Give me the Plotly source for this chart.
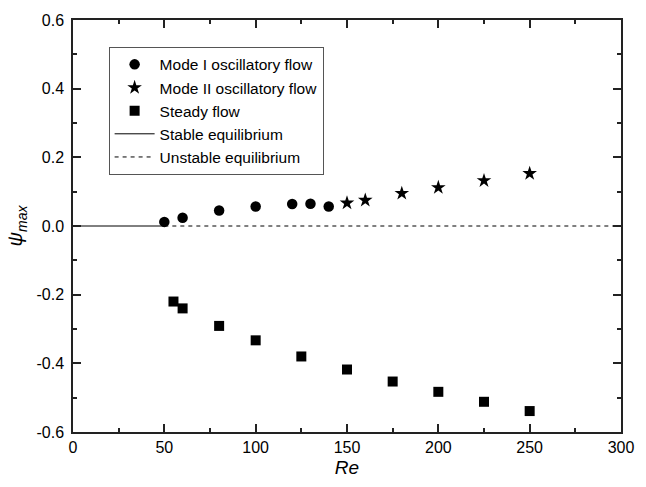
import plotly.graph_objects as go

# Data
re_mode1 = [50, 60, 80, 100, 120, 130, 140]
psi_mode1 = [0.012, 0.024, 0.045, 0.057, 0.064, 0.065, 0.057]

re_mode2 = [150, 160, 180, 200, 225, 250]
psi_mode2 = [0.067, 0.075, 0.095, 0.112, 0.132, 0.153]

re_steady = [55, 60, 80, 100, 125, 150, 175, 200, 225, 250]
psi_steady = [-0.220, -0.240, -0.291, -0.333, -0.380, -0.418, -0.453, -0.483, -0.512, -0.539]

re_stable = [0, 50]
psi_stable = [0, 0]
re_unstable = [50, 300]
psi_unstable = [0, 0]

x_tickvals = [0, 50, 100, 150, 200, 250, 300]
x_ticktext = ["0", "50", "100", "150", "200", "250", "300"]
y_tickvals = [-0.6, -0.4, -0.2, 0.0, 0.2, 0.4, 0.6]
y_ticktext = ["-0.6", "-0.4", "-0.2", "0.0", "0.2", "0.4", "0.6"]

FONT = "Liberation Sans, Arial, sans-serif"

fig = go.Figure()
fig.add_trace(go.Scatter(x=re_mode1, y=psi_mode1, mode="markers", name="Mode I oscillatory flow",
                         marker=dict(symbol="circle", size=10.5, color="black")))
fig.add_trace(go.Scatter(x=re_mode2, y=psi_mode2, mode="markers", name="Mode II oscillatory flow",
                         marker=dict(symbol="star", size=11, color="black")))
fig.add_trace(go.Scatter(x=re_steady, y=psi_steady, mode="markers", name="Steady flow",
                         marker=dict(symbol="square", size=10, color="black")))
fig.add_trace(go.Scatter(x=re_stable, y=psi_stable, mode="lines", name="Stable equilibrium",
                         line=dict(color="black", width=1)))
fig.add_trace(go.Scatter(x=re_unstable, y=psi_unstable, mode="lines", name="Unstable equilibrium",
                         line=dict(color="black", width=1, dash="4px,4px")))

axis_common = dict(
    showline=True, linecolor="#222", linewidth=1.5, mirror="allticks",
    ticks="inside", ticklen=8, tickwidth=1.5, tickcolor="#222",
    showgrid=False, zeroline=False,
    tickfont=dict(family=FONT, size=16, color="black"),
)

fig.update_xaxes(range=[0, 300], tickvals=x_tickvals, ticktext=x_ticktext,
                 minor=dict(ticks="inside", ticklen=4, tickwidth=1.5, tickcolor="#222", dtick=25, tick0=0),
                 title=dict(text="<i>Re</i>", font=dict(family=FONT, size=19, color="black"), standoff=6),
                 **axis_common)
fig.update_yaxes(range=[-0.6, 0.6], tickvals=y_tickvals, ticktext=y_ticktext,
                 minor=dict(ticks="inside", ticklen=4, tickwidth=1.5, tickcolor="#222", dtick=0.1, tick0=0),
                 title=dict(text="<i>ψ</i><sub><i>max</i></sub>", font=dict(family=FONT, size=20, color="black"), standoff=8),
                 ticklabelstandoff=4,
                 **axis_common)

fig.update_layout(
    width=646, height=487,
    margin=dict(l=73, r=12, t=18, b=52),
    paper_bgcolor="white", plot_bgcolor="white",
    font=dict(family=FONT, size=16, color="black"),
    legend=dict(x=0.065, y=0.935, xanchor="left", yanchor="top",
                bordercolor="#555", borderwidth=1, bgcolor="white",
                font=dict(family=FONT, size=15.5, color="black"),
                tracegroupgap=0, itemwidth=40),
)

fig.write_html("out.html")
